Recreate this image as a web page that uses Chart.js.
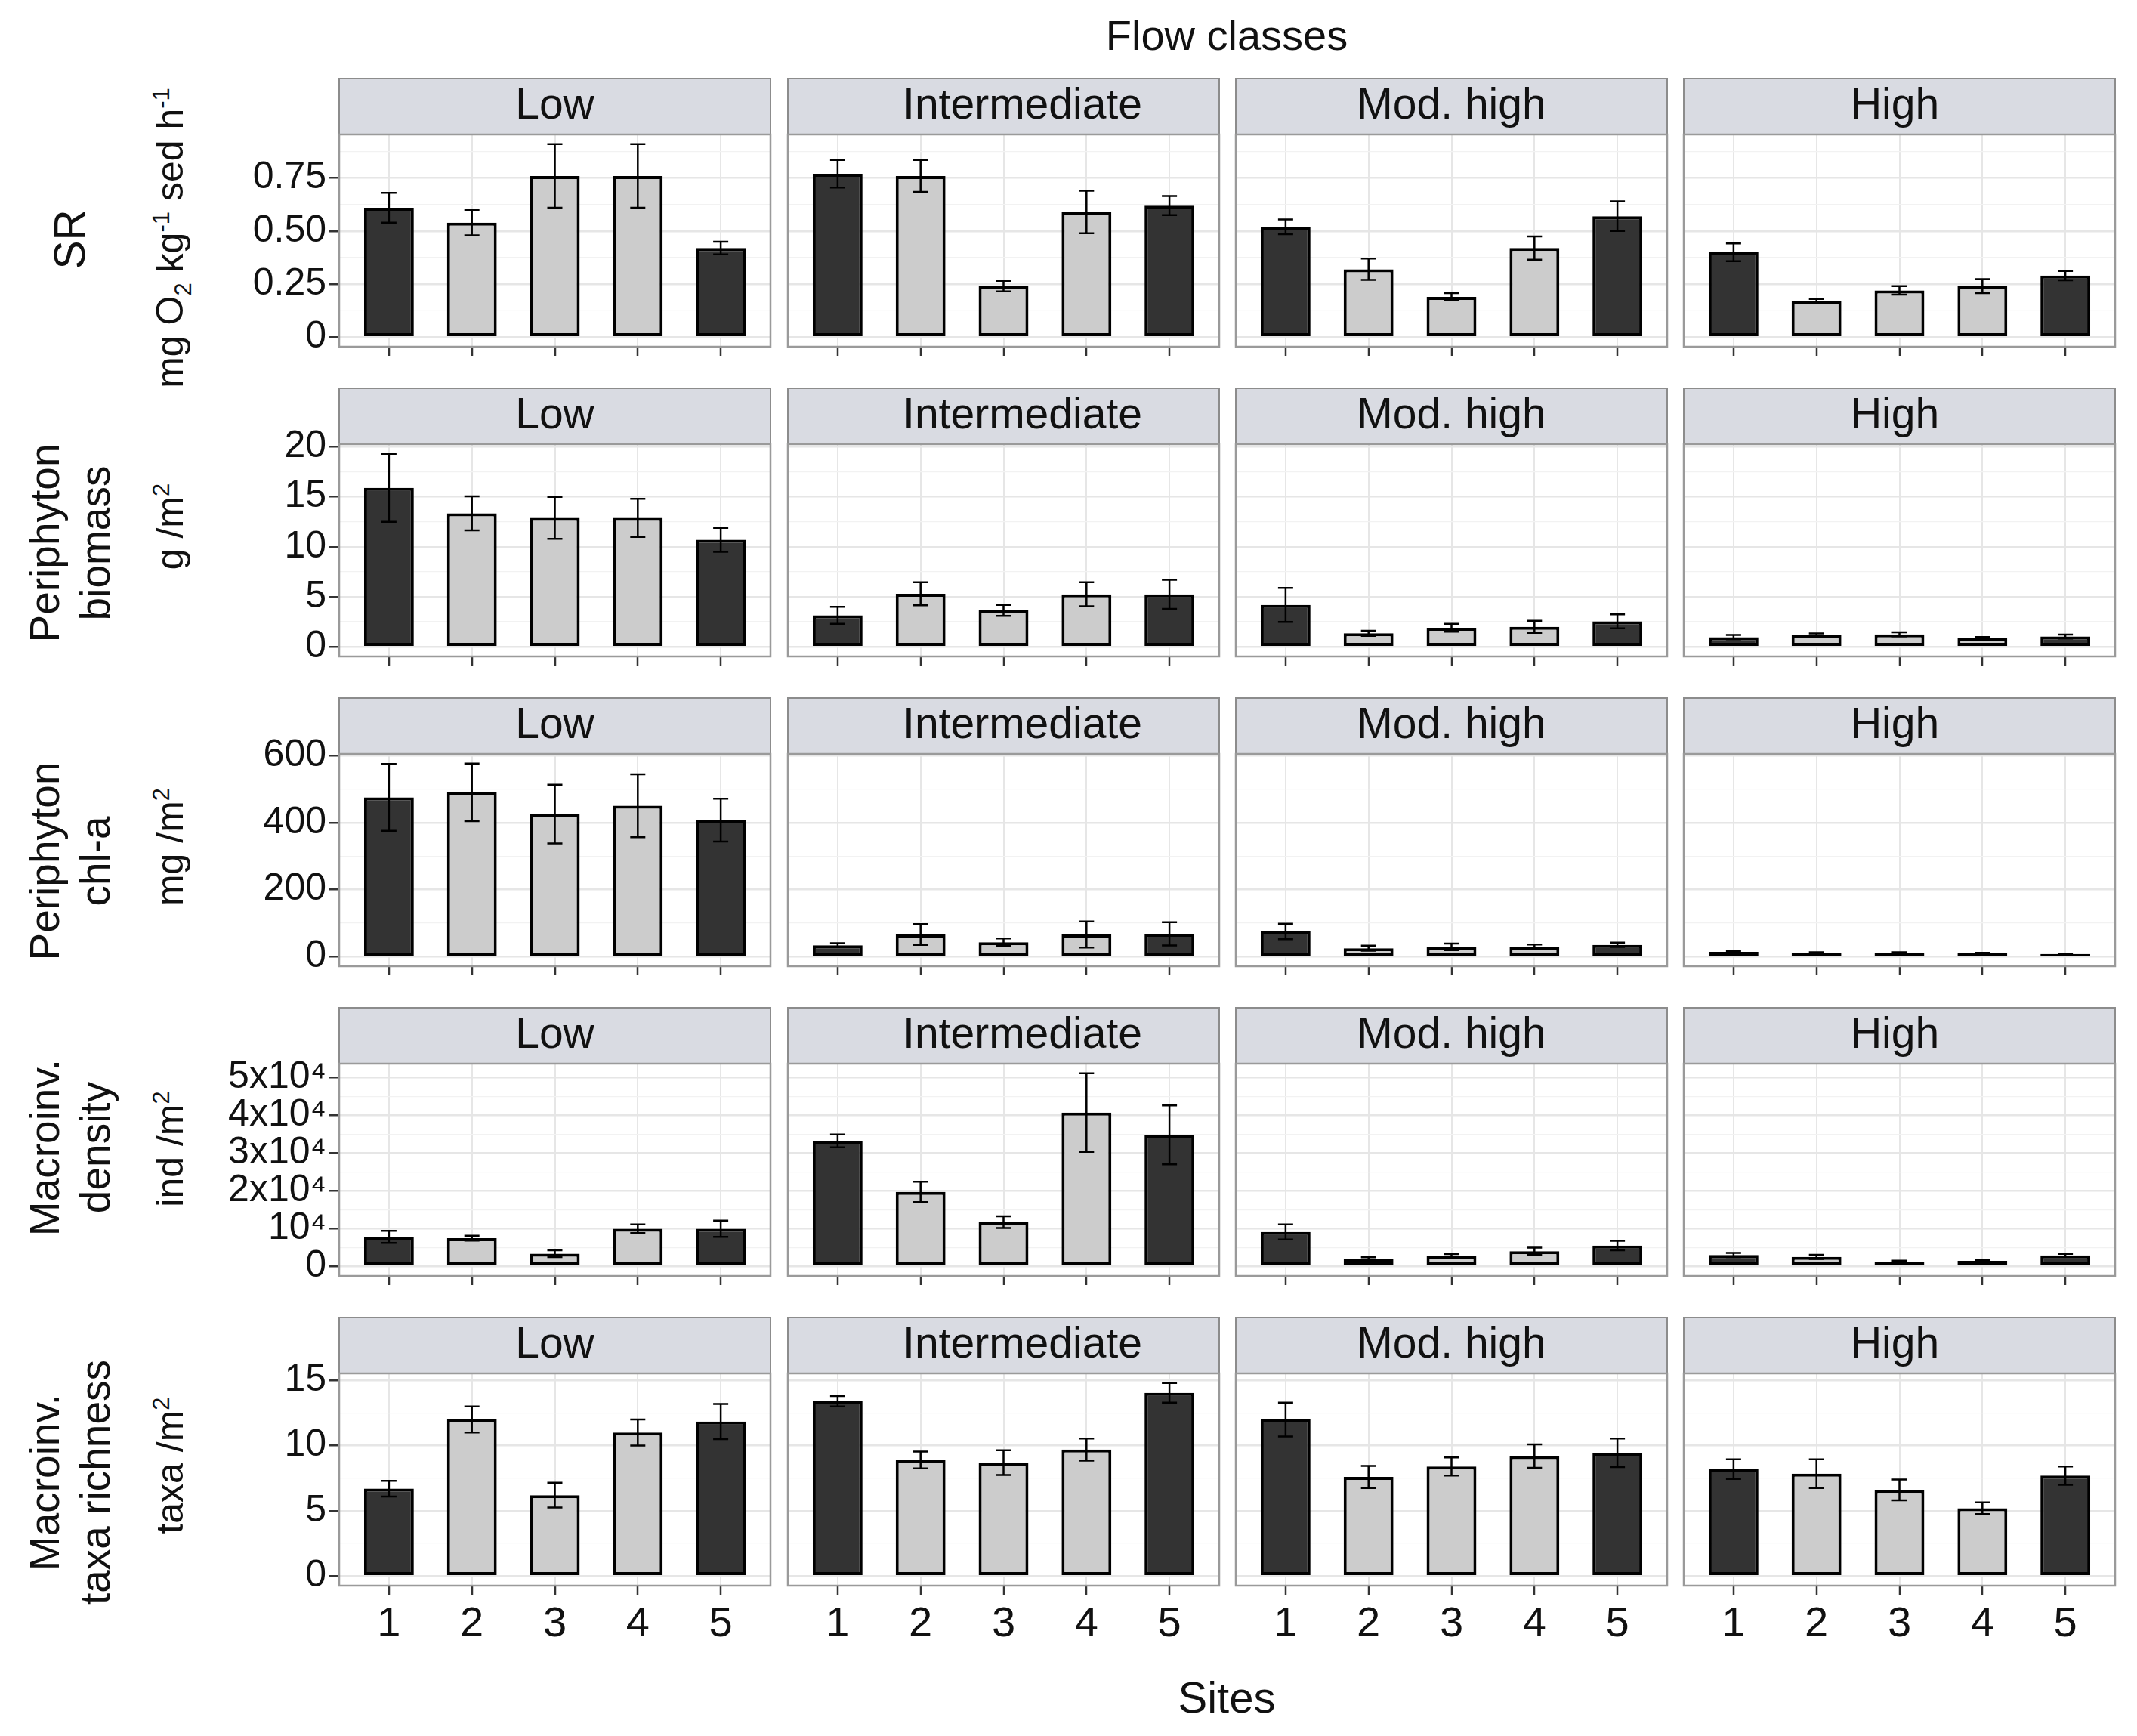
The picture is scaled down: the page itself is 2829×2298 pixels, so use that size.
<!DOCTYPE html>
<html>
<head>
<meta charset="utf-8">
<script src="https://cdn.jsdelivr.net/npm/chart.js@4.4.1/dist/chart.umd.min.js"></script>
<style>
  body { margin: 0; background: #fff; width: 2829px; height: 2298px; position: relative; overflow: hidden;
         font-family: "Liberation Sans", Arial, sans-serif; color: #111; }
  canvas { position: absolute; }
  .lbl { position: absolute; white-space: nowrap; line-height: normal; transform: translate(-50%, -50%); }
  .rot { transform: translate(-50%, -50%) rotate(-90deg); }
  sup, sub { font-size: 62%; line-height: 0; }
</style>
</head>
<body>
<script>
// ---- data (one inner array per flow class, sites 1-5) ----
const sites = [1, 2, 3, 4, 5];
const flowClasses = ['Low', 'Intermediate', 'Mod. high', 'High'];

// SR, mg O2 kg-1 sed h-1
const srMean = [
  [0.61, 0.54, 0.76, 0.76, 0.42],
  [0.77, 0.76, 0.24, 0.59, 0.62],
  [0.52, 0.32, 0.19, 0.42, 0.57],
  [0.40, 0.17, 0.22, 0.24, 0.29]
];
const srSE = [
  [0.07, 0.06, 0.15, 0.15, 0.03],
  [0.065, 0.075, 0.025, 0.10, 0.045],
  [0.035, 0.05, 0.017, 0.055, 0.07],
  [0.042, 0.01, 0.02, 0.033, 0.022]
];

// periphyton biomass, g/m2
const biomassMean = [
  [15.9, 13.35, 12.9, 12.9, 10.7],
  [3.15, 5.3, 3.65, 5.25, 5.25],
  [4.2, 1.35, 1.9, 2.0, 2.55],
  [0.97, 1.15, 1.25, 0.9, 1.03]
];
const biomassSE = [
  [3.4, 1.7, 2.1, 1.9, 1.2],
  [0.85, 1.15, 0.55, 1.2, 1.45],
  [1.7, 0.25, 0.4, 0.6, 0.7],
  [0.22, 0.18, 0.2, 0.08, 0.2]
];

// periphyton chl-a, mg/m2
const chlaMean = [
  [476, 491, 426, 451, 408],
  [34, 66, 43, 66, 68],
  [75, 25, 29, 29, 35],
  [14, 11, 11, 10, 8]
];
const chlaSE = [
  [100, 86, 88, 94, 64],
  [6, 31, 11, 39, 35],
  [23, 7.5, 10, 7, 6.5],
  [3, 2, 2, 1.5, 1]
];

// macroinvertebrate density, ind/m2
const densityMean = [
  [7800, 7450, 3350, 9950, 9950],
  [33200, 19700, 11700, 40700, 34800],
  [9100, 2050, 2700, 4000, 5500],
  [3000, 2500, 1250, 1450, 2900]
];
const densitySE = [
  [1600, 650, 900, 1150, 2150],
  [1700, 2700, 1550, 10400, 7800],
  [2000, 360, 570, 940, 1250],
  [570, 560, 260, 260, 400]
];

// macroinvertebrate taxa richness, taxa/m2
const richnessMean = [
  [6.7, 12.0, 6.2, 11.0, 11.85],
  [13.4, 8.9, 8.7, 9.7, 14.05],
  [12.0, 7.6, 8.4, 9.2, 9.45],
  [8.2, 7.85, 6.6, 5.2, 7.7]
];
const richnessSE = [
  [0.6, 1.0, 0.95, 1.0, 1.35],
  [0.4, 0.65, 0.95, 0.85, 0.75],
  [1.3, 0.85, 0.7, 0.9, 1.1],
  [0.75, 1.1, 0.8, 0.45, 0.7]
];

// y axis breaks and their labels
const srTicks = [0, 0.25, 0.5, 0.75];
const srTickLabels = ['0', '0.25', '0.50', '0.75'];
const biomassTicks = [0, 5, 10, 15, 20];
const biomassTickLabels = ['0', '5', '10', '15', '20'];
const chlaTicks = [0, 200, 400, 600];
const chlaTickLabels = ['0', '200', '400', '600'];
const densityTicks = [0, 10000, 20000, 30000, 40000, 50000];
const densityTickLabels = ['0', '10\u2074', '2x10\u2074', '3x10\u2074', '4x10\u2074', '5x10\u2074'];
const richnessTicks = [0, 5, 10, 15];
const richnessTickLabels = ['0', '5', '10', '15'];

const rowNames = [['SR'], ['Periphyton', 'biomass'], ['Periphyton', 'chl-a'],
                  ['Macroinv.', 'density'], ['Macroinv.', 'taxa richness']];
const rowUnits = ['mg O<sub>2</sub> kg<sup>-1</sup> sed h<sup>-1</sup>', 'g /m<sup>2</sup>',
                  'mg /m<sup>2</sup>', 'ind /m<sup>2</sup>', 'taxa /m<sup>2</sup>'];

const rows = [
  { mean: srMean, se: srSE, ticks: srTicks, labels: srTickLabels },
  { mean: biomassMean, se: biomassSE, ticks: biomassTicks, labels: biomassTickLabels },
  { mean: chlaMean, se: chlaSE, ticks: chlaTicks, labels: chlaTickLabels },
  { mean: densityMean, se: densitySE, ticks: densityTicks, labels: densityTickLabels },
  { mean: richnessMean, se: richnessSE, ticks: richnessTicks, labels: richnessTickLabels }
];

// ---- layout & style ----
const PLOT_LEFT = [449, 1043, 1636, 2229];
const PLOT_W = 571, PLOT_H = 281, STRIP_H = 75;
const ROW_TOP0 = 103, ROW_PITCH = 410;
const FONT = '"Liberation Sans", Arial, sans-serif';
const TEXT = '#111111';
const siteFill = ['#333333', '#cccccc', '#cccccc', '#cccccc', '#333333'];
const GRID_MAJOR = '#e6e6e6', GRID_MINOR = '#f2f2f2';
const TICK_COLOR = '#333333';
const NAME_DY = [-2, -10, 1, -30, 3];
const UNIT_DY = [-4, -32, -18, -28, -19];
const STRIP_DX = [0, 25, 0, -6];

Chart.defaults.font.family = FONT;

const stripPlugin = {
  id: 'strip',
  beforeDraw(chart, args, opts) {
    const { ctx, chartArea: a } = chart;
    ctx.save();
    ctx.fillStyle = '#d9dbe2';
    ctx.fillRect(a.left, 1, a.right - a.left, STRIP_H - 1);
    ctx.strokeStyle = '#8c8c8c';
    ctx.lineWidth = 2;
    ctx.strokeRect(a.left, 1, a.right - a.left, STRIP_H - 1);
    ctx.fillStyle = TEXT;
    ctx.font = '57px ' + FONT;
    ctx.textAlign = 'center';
    ctx.textBaseline = 'middle';
    ctx.fillText(opts.text, (a.left + a.right) / 2 + opts.dx, STRIP_H / 2 + 1);
    ctx.restore();
  }
};

const errorBarPlugin = {
  id: 'errorBars',
  afterDatasetsDraw(chart) {
    const { ctx, scales: { y } } = chart;
    const ds = chart.data.datasets[0];
    const meta = chart.getDatasetMeta(0);
    ctx.save();
    ctx.strokeStyle = '#000';
    ctx.lineWidth = 2.5;
    meta.data.forEach((bar, i) => {
      const v = ds.data[i].y, e = ds.se[i];
      const top = y.getPixelForValue(v + e), bot = y.getPixelForValue(v - e);
      ctx.beginPath();
      ctx.moveTo(bar.x, top); ctx.lineTo(bar.x, bot);
      ctx.moveTo(bar.x - 10, top); ctx.lineTo(bar.x + 10, top);
      ctx.moveTo(bar.x - 10, bot); ctx.lineTo(bar.x + 10, bot);
      ctx.stroke();
    });
    ctx.restore();
  }
};

const borderPlugin = {
  id: 'panelBorder',
  afterDraw(chart) {
    const { ctx, chartArea: a } = chart;
    ctx.save();
    ctx.strokeStyle = '#9a9a9a';
    ctx.lineWidth = 2.5;
    ctx.strokeRect(a.left, a.top, a.right - a.left, a.bottom - a.top);
    ctx.restore();
  }
};

function makePanel(row, col) {
  const r = rows[row];
  const first = col === 0;
  const last = row === rows.length - 1;
  const padL = first ? 180 : 4, padR = 4, xH = last ? 90 : 30;

  // ggplot-like limits: 0 .. max(mean + se), expanded by 5 %
  let top = 0;
  r.mean.forEach((m, c) => m.forEach((v, i) => { top = Math.max(top, v + r.se[c][i]); }));
  const yMin = -0.05 * top, yMax = 1.05 * top;

  const step = r.ticks[1] - r.ticks[0];
  const minors = r.ticks.map(t => t + step / 2).filter(t => t <= yMax);
  const yVals = r.ticks.concat(minors);
  const isMajor = v => r.ticks.indexOf(v) >= 0;

  const canvas = document.createElement('canvas');
  canvas.width = padL + PLOT_W + padR;
  canvas.height = STRIP_H + PLOT_H + xH;
  canvas.style.left = (PLOT_LEFT[col] - padL) + 'px';
  canvas.style.top = (ROW_TOP0 + row * ROW_PITCH) + 'px';
  document.body.appendChild(canvas);

  new Chart(canvas, {
    type: 'bar',
    data: {
      datasets: [{
        data: sites.map((s, i) => ({ x: s, y: r.mean[col][i] })),
        se: r.se[col],
        backgroundColor: siteFill,
        borderColor: '#000',
        borderWidth: 4,
        borderSkipped: false,
        barPercentage: 0.6,
        categoryPercentage: 1
      }]
    },
    options: {
      responsive: false,
      animation: false,
      devicePixelRatio: 1,
      layout: { padding: { top: STRIP_H, left: first ? 0 : padL, right: padR, bottom: 0 } },
      plugins: {
        legend: { display: false },
        tooltip: { enabled: false },
        strip: { text: flowClasses[col], dx: STRIP_DX[col] }
      },
      scales: {
        x: {
          type: 'linear', min: 0.4, max: 5.6, offset: false,
          afterBuildTicks: ax => { ax.ticks = sites.map(v => ({ value: v })); },
          afterFit: ax => { ax.height = xH; ax.paddingLeft = 0; ax.paddingRight = 0; },
          grid: { offset: false, color: GRID_MAJOR, lineWidth: 2, drawTicks: true,
                  tickLength: 12, tickColor: TICK_COLOR, tickWidth: 2.5 },
          border: { display: false },
          ticks: { display: last, padding: 6, color: TEXT, font: { size: 56 },
                   maxRotation: 0, autoSkip: false }
        },
        y: {
          type: 'linear', min: yMin, max: yMax,
          afterBuildTicks: ax => { ax.ticks = yVals.map(v => ({ value: v })); },
          afterFit: ax => { ax.width = first ? padL : 0; ax.paddingTop = 0; ax.paddingBottom = 0; },
          grid: {
            color: c => isMajor(c.tick.value) ? GRID_MAJOR : GRID_MINOR,
            lineWidth: c => isMajor(c.tick.value) ? 2.5 : 1.3,
            drawTicks: first, tickLength: 13, tickWidth: 2.5,
            tickColor: c => isMajor(c.tick.value) ? TICK_COLOR : 'rgba(0,0,0,0)'
          },
          border: { display: false },
          ticks: {
            display: first, padding: 4, color: TEXT, font: { size: 50 }, autoSkip: false,
            callback: v => { const k = r.ticks.indexOf(v); return k >= 0 ? r.labels[k] : ''; }
          }
        }
      }
    },
    plugins: [stripPlugin, errorBarPlugin, borderPlugin]
  });
}

function addLabel(html, x, y, size, rotate) {
  const d = document.createElement('div');
  d.className = 'lbl' + (rotate ? ' rot' : '');
  d.style.left = x + 'px';
  d.style.top = y + 'px';
  d.style.fontSize = size + 'px';
  d.innerHTML = html;
  document.body.appendChild(d);
}

rows.forEach((r, row) => {
  flowClasses.forEach((f, col) => makePanel(row, col));
  const cy = ROW_TOP0 + row * ROW_PITCH + STRIP_H + PLOT_H / 2;
  const names = rowNames[row];
  if (names.length === 1) {
    addLabel(names[0], 92, cy + NAME_DY[row], 57, true);
  } else {
    addLabel(names[0], 59, cy + NAME_DY[row], 55, true);
    addLabel(names[1], 126, cy + NAME_DY[row], 55, true);
  }
  addLabel(rowUnits[row], 225, cy + UNIT_DY[row], 50, true);
});

addLabel('Flow classes', 1624, 46, 56, false);
addLabel('Sites', 1624, 2246, 58, false);
</script>
</body>
</html>
